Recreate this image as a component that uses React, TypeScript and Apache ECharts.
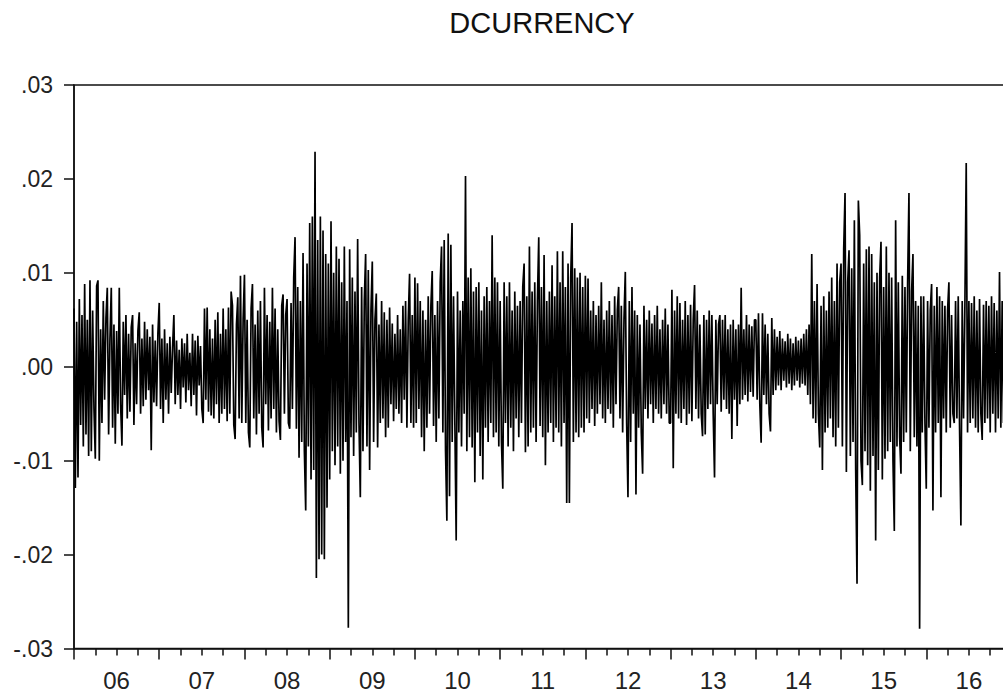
import React, { useEffect, useRef } from "react";
import * as echarts from "echarts";

const y2006 = [.0062, -.0129, .0048, -.0118, .0072, -.0062, .0055, -.0085, .0088, -.0072, .0050, -.0095, .0092, -.0090, .0060, -.0045, -.0098, .0086, .0092, -.0100, .0040, -.0060, .0070, -.0035, .0052, .0084, -.0072, .0030, .0084, -.0065, .0045, -.0082, .0038, -.0050, .0084, -.0040, -.0084, .0048, -.0030, .0055, -.0055, .0035, -.0048, .0042, .0055, -.0062, .0025, -.0040, .0038, .0058, -.0050, .0030, -.0042, .0048, -.0035, .0040, -.0025, .0032, -.0089, .0045, -.0038, .0028, -.0042, .0035];
const y2007 = [.0068, -.0045, .0030, -.0060, .0040, -.0035, .0025, -.0050, .0032, -.0028, .0020, .0055, -.0040, .0028, -.0030, .0018, -.0045, .0030, -.0022, .0025, -.0038, .0035, -.0025, .0015, -.0042, .0035, -.0030, .0028, -.0052, .0033, -.0020, .0022, -.0045, -.0060, .0062, -.0035, .0063, -.0048, .0040, -.0052, .0030, -.0055, .0050, -.0040, .0058, -.0060, .0035, -.0050, .0062, -.0045, .0040, -.0058, .0063, -.0050, .0080, .0065, -.0062, -.0077, .0045, .0074, -.0055, .0097, -.0060, .0050];
const y2008 = [.0098, -.0060, .0050, -.0070, -.0086, .0062, .0088, -.0055, .0045, -.0072, .0060, -.0050, .0070, -.0065, -.0086, .0084, -.0040, .0055, -.0068, .0048, -.0055, .0084, -.0045, .0062, -.0070, .0040, -.0058, -.0078, .0065, .0077, -.0050, .0055, .0072, -.0060, -.0066, .0068, -.0045, .0095, .0138, -.0066, .0085, -.0097, .0070, -.0080, .0121, -.0090, -.0153, .0110, -.0085, .0153, -.0120, .0160, -.0110, .0229, -.0225, .0135, -.0205, .0160, -.0200, .0145, -.0205, .0120, -.0150, .0110];
const y2009 = [-.0120, .0155, -.0090, .0100, -.0105, .0128, -.0085, .0115, -.0114, .0090, -.0100, .0128, -.0080, .0070, -.0278, .0125, -.0075, .0095, -.0095, .0080, -.0070, .0136, -.0060, -.0139, .0085, -.0090, .0070, .0120, -.0085, .0103, -.0110, .0060, .0112, -.0080, .0050, .0078, -.0086, .0045, -.0060, .0070, -.0055, .0058, -.0075, .0050, -.0065, .0063, -.0040, .0046, -.0058, .0035, -.0045, .0055, -.0050, .0040, -.0060, .0065, -.0035, .0070, -.0065, .0050, .0099, -.0060, .0055, -.0065];
const y2010 = [.0095, -.0060, .0089, -.0045, .0070, -.0075, .0060, -.0090, .0050, -.0065, .0075, -.0050, .0065, .0102, -.0063, .0055, -.0080, .0070, -.0055, .0090, .0128, -.0070, .0135, -.0090, -.0164, .0142, -.0138, .0130, -.0080, .0075, -.0060, -.0185, .0080, -.0070, .0060, -.0085, .0070, -.0050, .0203, -.0090, .0095, -.0075, .0105, -.0086, .0080, -.0123, .0085, -.0070, .0090, -.0095, .0060, -.0120, .0075, -.0065, .0085, -.0080, .0070, -.0060, .0140, -.0075, .0095, -.0070, .0090, -.0085];
const y2011 = [.0070, -.0080, -.0130, .0090, -.0060, .0075, -.0085, .0090, -.0065, .0060, -.0090, .0080, -.0055, .0065, -.0075, .0070, -.0060, .0085, .0110, -.0091, .0075, -.0085, .0128, -.0070, .0080, -.0065, .0090, -.0080, .0070, .0138, -.0063, .0085, -.0075, .0119, -.0105, .0070, -.0070, .0080, -.0060, .0108, -.0080, .0075, -.0065, .0123, -.0070, .0090, -.0085, .0123, -.0060, .0085, -.0145, .0110, -.0145, .0095, .0153, -.0080, .0105, -.0070, .0095, -.0075, .0100, -.0065, .0085, -.0070];
const y2012 = [.0097, -.0055, .0094, -.0060, .0060, -.0045, .0070, -.0063, .0055, -.0050, .0065, -.0040, .0090, -.0055, .0050, -.0060, .0060, -.0045, .0070, -.0050, .0055, -.0065, .0075, -.0040, .0060, .0085, -.0055, .0065, -.0070, .0050, .0101, -.0060, -.0139, .0070, -.0080, .0085, -.0050, .0060, -.0136, .0055, -.0065, .0045, -.0070, -.0114, .0065, -.0045, .0050, -.0055, .0060, -.0040, .0046, -.0060, .0055, -.0045, .0065, -.0050, .0040, -.0055, .0050, -.0040, .0062, -.0050, .0045, -.0060];
const y2013 = [-.0060, .0082, -.0108, .0060, -.0050, .0075, -.0055, .0068, -.0060, .0050, -.0045, .0070, -.0062, .0055, -.0050, .0066, -.0058, .0050, .0087, -.0045, .0060, -.0055, .0045, -.0050, -.0074, .0055, -.0072, .0050, -.0045, .0060, -.0040, .0055, -.0050, -.0118, .0050, -.0040, .0045, .0055, -.0048, .0050, -.0035, .0055, -.0045, .0040, -.0050, .0045, -.0077, .0050, -.0035, .0040, -.0063, .0045, -.0040, .0084, -.0035, .0040, -.0030, .0055, -.0037, .0045, -.0027, .0043, -.0032, .0050];
const y2014 = [.0050, -.0035, .0057, -.0040, -.0081, .0057, -.0030, .0045, -.0040, .0035, -.0050, -.0069, .0052, -.0030, .0040, -.0025, .0032, -.0020, .0038, -.0025, .0030, -.0015, .0027, -.0022, .0035, -.0018, .0030, -.0025, .0025, -.0020, .0032, -.0015, .0028, -.0022, .0030, -.0018, .0035, -.0020, .0040, -.0030, .0045, -.0040, .0120, -.0055, .0070, -.0060, .0088, -.0050, -.0086, .0065, -.0110, .0075, -.0070, .0060, -.0065, .0080, -.0055, .0095, -.0075, .0070, -.0085, .0110, -.0065, .0090];
const y2015 = [.0110, -.0085, .0125, .0185, -.0112, .0090, .0124, -.0095, .0105, -.0080, .0156, -.0110, -.0231, .0177, .0140, -.0100, -.0126, .0110, -.0090, .0125, -.0105, .0128, -.0132, .0120, -.0095, .0090, -.0185, .0100, -.0110, .0095, .0133, -.0120, .0085, -.0098, .0128, -.0090, .0100, -.0080, .0095, -.0100, -.0175, .0156, -.0085, .0090, -.0075, -.0114, .0097, -.0080, .0085, -.0070, .0090, .0185, -.0090, .0080, .0120, -.0075, .0070, -.0085, .0065, -.0279, .0075, -.0070, .0075, -.0060];
const y2016 = [-.0130, .0070, -.0065, .0060, .0088, -.0153, .0065, -.0070, .0085, -.0060, .0075, -.0139, .0070, -.0055, .0065, -.0070, .0060, .0090, -.0065, .0055, -.0050, -.0060, .0070, -.0055, .0075, -.0065, -.0169, .0070, -.0055, .0065, .0217, -.0070, .0070, -.0060, .0068, -.0055, .0075, -.0065, .0060, -.0070, .0072, -.0050, -.0078, .0066, -.0060, .0070, -.0055, .0065, -.0070, .0075, -.0050, .0068, -.0070, .0060, -.0055, .0101, -.0065, .0070, -.0060, .0065, -.0055, .0070, -.0060, .0050];

const years = [2006, 2007, 2008, 2009, 2010, 2011, 2012, 2013, 2014, 2015, 2016];
const yearly = [y2006, y2007, y2008, y2009, y2010, y2011, y2012, y2013, y2014, y2015, y2016];
const yearLabels = ["06", "07", "08", "09", "10", "11", "12", "13", "14", "15", "16"];
const yTicks = [-0.03, -0.02, -0.01, 0, 0.01, 0.02, 0.03];

const FONT = "'Liberation Sans', Arial, Helvetica, sans-serif";

export default function App() {
  const ref = useRef<HTMLDivElement>(null);
  useEffect(() => {
    if (!ref.current) return;
    const chart = echarts.init(ref.current, undefined, { renderer: "svg" });
    const data: number[][] = [];
    yearly.forEach((arr, k) => {
      arr.forEach((v, i) => data.push([years[k] + i / arr.length, v]));
    });
    chart.setOption({
      animation: false,
      backgroundColor: "#ffffff",
      graphic: [
        {
          type: "text",
          x: 542,
          y: 23,
          style: {
            text: "DCURRENCY",
            fontSize: 29,
            fontFamily: FONT,
            fill: "#111",
            align: "center",
            verticalAlign: "middle",
            textAlign: "center",
            textVerticalAlign: "middle",
          },
        },
      ],
      grid: {
        left: 74,
        top: 85,
        bottom: 46.5,
        right: -8.5,
        show: true,
        borderColor: "#111",
        borderWidth: 1.5,
        outerBoundsMode: "none",
        containLabel: false,
      },
      xAxis: {
        type: "value",
        min: 2006,
        max: 2017,
        interval: 1,
        axisLine: { show: true, onZero: false, lineStyle: { color: "#111", width: 1.5 } },
        axisTick: {
          show: true,
          length: 11,
          customValues: years.concat([2017]),
          lineStyle: { color: "#111", width: 1.5 },
        },
        minorTick: { show: true, splitNumber: 4, length: 7, lineStyle: { color: "#111", width: 1.5 } },
        splitLine: { show: false },
        axisLabel: {
          customValues: years.map((y) => y + 0.5),
          formatter: (v: number) => yearLabels[Math.floor(v) - 2006] ?? "",
          fontSize: 24,
          fontFamily: FONT,
          color: "#222",
          margin: 20,
        },
      },
      yAxis: {
        type: "value",
        min: -0.03,
        max: 0.03,
        interval: 0.01,
        axisLine: { show: true, lineStyle: { color: "#111", width: 1.5 } },
        axisTick: { show: true, inside: false, length: 10, lineStyle: { color: "#111", width: 1.5 } },
        splitLine: { show: false },
        axisLabel: {
          customValues: yTicks,
          formatter: (v: number) => {
            const s = (Math.round(v * 100) / 100).toFixed(2);
            return s.replace("0.", ".");
          },
          fontSize: 23,
          fontFamily: FONT,
          color: "#222",
          margin: 21,
        },
      },
      series: [
        {
          type: "line",
          data,
          showSymbol: false,
          symbol: "none",
          lineStyle: { color: "#000", width: 1.7 },
          emphasis: { disabled: true },
          silent: true,
        },
      ],
    });
    return () => chart.dispose();
  }, []);
  return (
    <div
      ref={ref}
      style={{ position: "absolute", left: 0, top: 0, width: 1003, height: 695, background: "#fff" }}
    />
  );
}
